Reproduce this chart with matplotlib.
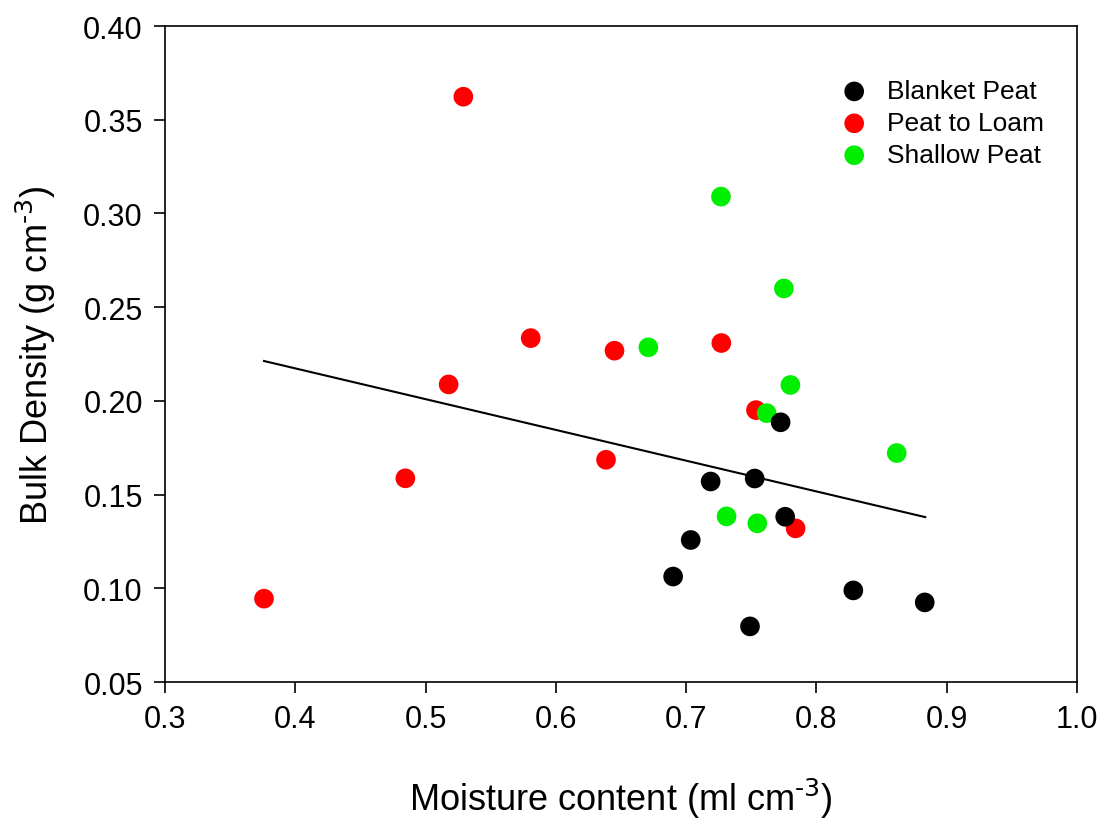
import matplotlib.pyplot as plt
import numpy as np

plt.rcParams['font.family'] = ['Liberation Sans', 'DejaVu Sans']

# Blanket Peat
bp_x = [0.7725, 0.7188, 0.7526, 0.776, 0.7035, 0.690, 0.8283, 0.8831, 0.749]
bp_y = [0.1886, 0.157, 0.1586, 0.1382, 0.1258, 0.1063, 0.0989, 0.0925, 0.0797]
# Peat to Loam
pl_x = [0.376, 0.4845, 0.529, 0.5177, 0.5807, 0.6385, 0.645, 0.727, 0.7536, 0.784]
pl_y = [0.0945, 0.1587, 0.3623, 0.2088, 0.2335, 0.1686, 0.2268, 0.2309, 0.1951, 0.132]
# Shallow Peat
sp_x = [0.7267, 0.775, 0.671, 0.780, 0.7618, 0.8616, 0.731, 0.7546]
sp_y = [0.309, 0.260, 0.2286, 0.2085, 0.1935, 0.1722, 0.1384, 0.1347]

# trend line
fit_x = [0.376, 0.8835]
fit_y = [0.2213, 0.138]

fig = plt.figure(figsize=(11.05, 8.2), dpi=100)
ax = fig.add_axes([0.1493, 0.167, 0.8254, 0.800])

ax.scatter(pl_x, pl_y, s=200, c='#ff0000', edgecolors='none', label='Peat to Loam', zorder=3)
ax.scatter(sp_x, sp_y, s=200, c='#00ee00', edgecolors='none', label='Shallow Peat', zorder=4)
ax.scatter(bp_x, bp_y, s=200, c='black', edgecolors='none', label='Blanket Peat', zorder=5)
ax.plot(fit_x, fit_y, color='black', lw=1.5, zorder=2)

ax.set_xlim(0.3, 1.0)
ax.set_ylim(0.05, 0.40)
ax.set_xticks(np.arange(0.3, 1.01, 0.1))
ax.set_yticks(np.arange(0.05, 0.401, 0.05))
ax.xaxis.set_major_formatter(plt.FormatStrFormatter('%.1f'))
ax.yaxis.set_major_formatter(plt.FormatStrFormatter('%.2f'))
ax.tick_params(direction='out', length=8, width=1.2, labelsize=22, pad=8)
for sp in ax.spines.values():
    sp.set_linewidth(1.2)

ax.set_xlabel(r'Moisture content (ml cm$^{\text{-3}}$)', fontsize=26, labelpad=30)
ax.set_ylabel(r'Bulk Density (g cm$^{\text{-3}}$)', fontsize=26, labelpad=18)

h, l = ax.get_legend_handles_labels()
order = [2, 0, 1]
ax.legend([h[i] for i in order], [l[i] for i in order], loc='upper right',
          frameon=False, fontsize=19, handletextpad=0.25, labelspacing=0.3,
          bbox_to_anchor=(0.99, 0.955))

plt.savefig('out.png', dpi=100)
